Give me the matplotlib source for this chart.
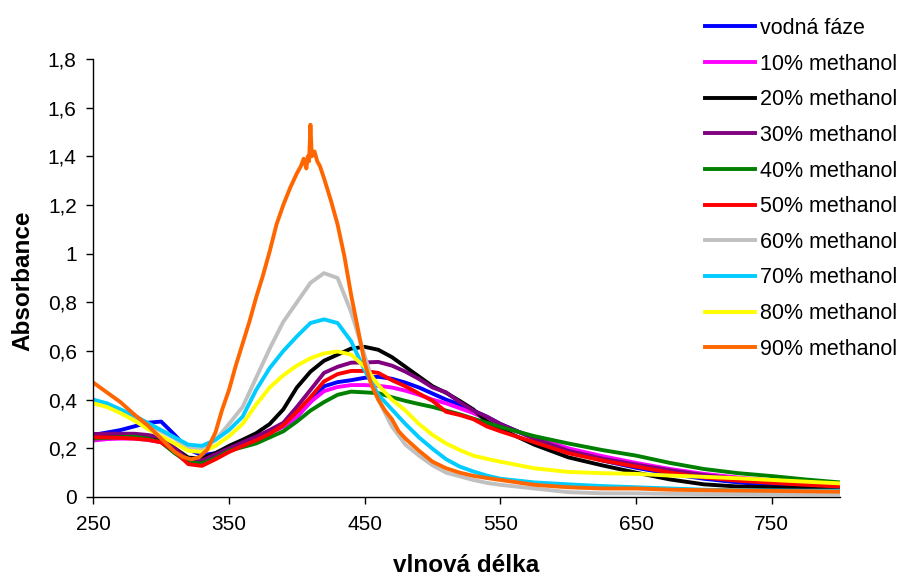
import matplotlib
matplotlib.use('Agg')
import matplotlib.pyplot as plt

plt.rcParams['font.family'] = ['Liberation Sans', 'DejaVu Sans']

# wavelength grid shared by most series (nm)
wl = [250, 260, 270, 280, 290, 300, 310, 320, 330, 340, 350, 360, 370, 380, 390,
      400, 410, 420, 430, 440, 450, 460, 470, 480, 490, 500, 510, 520, 530, 540,
      550, 575, 600, 625, 650, 675, 700, 725, 750, 775, 800]

voda = [0.255, 0.265, 0.275, 0.29, 0.305, 0.31, 0.255, 0.195, 0.172, 0.18, 0.205,
        0.225, 0.245, 0.265, 0.29, 0.33, 0.39, 0.455, 0.472, 0.48, 0.49, 0.494,
        0.486, 0.47, 0.45, 0.425, 0.40, 0.38, 0.355, 0.33, 0.30, 0.24, 0.19, 0.15,
        0.12, 0.095, 0.075, 0.06, 0.05, 0.045, 0.04]
m10 = [0.232, 0.238, 0.24, 0.24, 0.235, 0.225, 0.185, 0.14, 0.135, 0.16, 0.19,
       0.215, 0.235, 0.262, 0.29, 0.33, 0.39, 0.435, 0.452, 0.46, 0.46, 0.457,
       0.45, 0.437, 0.42, 0.40, 0.385, 0.365, 0.345, 0.32, 0.292, 0.245, 0.20,
       0.168, 0.14, 0.115, 0.095, 0.08, 0.068, 0.058, 0.05]
m20 = [0.258, 0.255, 0.252, 0.25, 0.245, 0.238, 0.20, 0.162, 0.158, 0.18, 0.21,
       0.235, 0.262, 0.30, 0.36, 0.45, 0.515, 0.56, 0.585, 0.61, 0.617, 0.605,
       0.575, 0.535, 0.495, 0.455, 0.428, 0.395, 0.36, 0.31, 0.28, 0.215, 0.163,
       0.13, 0.10, 0.072, 0.052, 0.043, 0.04, 0.038, 0.036]
m30 = [0.258, 0.26, 0.26, 0.26, 0.255, 0.245, 0.20, 0.152, 0.15, 0.175, 0.20,
       0.225, 0.248, 0.275, 0.305, 0.37, 0.44, 0.51, 0.535, 0.552, 0.553, 0.555,
       0.54, 0.515, 0.485, 0.45, 0.43, 0.39, 0.355, 0.33, 0.30, 0.24, 0.19, 0.158,
       0.133, 0.11, 0.09, 0.075, 0.065, 0.057, 0.05]
m40 = [0.24, 0.243, 0.246, 0.248, 0.24, 0.225, 0.18, 0.142, 0.138, 0.16, 0.19,
       0.205, 0.22, 0.245, 0.27, 0.31, 0.355, 0.39, 0.42, 0.433, 0.43, 0.427,
       0.41, 0.395, 0.382, 0.37, 0.355, 0.34, 0.322, 0.305, 0.288, 0.25, 0.22,
       0.193, 0.17, 0.14, 0.115, 0.098, 0.086, 0.072, 0.06]
m50 = [0.245, 0.245, 0.243, 0.24, 0.235, 0.225, 0.188, 0.135, 0.128, 0.155, 0.185,
       0.21, 0.233, 0.26, 0.295, 0.35, 0.41, 0.475, 0.505, 0.518, 0.518, 0.51,
       0.48, 0.455, 0.425, 0.395, 0.35, 0.337, 0.32, 0.29, 0.27, 0.225, 0.18,
       0.15, 0.125, 0.10, 0.08, 0.067, 0.058, 0.05, 0.043]
m60 = [0.395, 0.38, 0.355, 0.33, 0.30, 0.27, 0.24, 0.20, 0.195, 0.234, 0.30,
       0.37, 0.49, 0.61, 0.72, 0.80, 0.88, 0.92, 0.90, 0.76, 0.58, 0.40, 0.29,
       0.215, 0.17, 0.13, 0.10, 0.085, 0.07, 0.058, 0.05, 0.035, 0.02, 0.015,
       0.015, 0.013, 0.012, 0.012, 0.011, 0.01, 0.01]
m70 = [0.40, 0.385, 0.36, 0.335, 0.305, 0.275, 0.245, 0.215, 0.21, 0.235, 0.275,
       0.33, 0.44, 0.53, 0.60, 0.66, 0.715, 0.73, 0.715, 0.64, 0.52, 0.42, 0.36,
       0.30, 0.245, 0.198, 0.155, 0.125, 0.105, 0.088, 0.075, 0.06, 0.052, 0.045,
       0.04, 0.035, 0.03, 0.028, 0.027, 0.026, 0.026]
m80 = [0.385, 0.37, 0.345, 0.315, 0.28, 0.25, 0.22, 0.19, 0.185, 0.21, 0.25,
       0.30, 0.38, 0.45, 0.50, 0.54, 0.57, 0.59, 0.598, 0.585, 0.535, 0.46, 0.40,
       0.355, 0.30, 0.255, 0.22, 0.193, 0.17, 0.157, 0.145, 0.118, 0.103, 0.098,
       0.095, 0.088, 0.083, 0.077, 0.07, 0.063, 0.056]

# 90% methanol has its own, denser grid around the noisy peak
wl90 = [250, 260, 270, 280, 290, 300, 310, 316, 322, 328, 334, 340, 345, 350, 355,
        360, 365, 370, 375, 380, 385, 390, 395, 400, 403, 405, 407, 408, 409, 410,
        411, 413, 415, 417, 420, 425, 430, 435, 440, 445, 450, 455, 460, 465, 470,
        475, 480, 490, 500, 510, 520, 530, 540, 550, 575, 600, 625, 650, 675, 700,
        750, 800]
m90 = [0.47, 0.43, 0.39, 0.34, 0.295, 0.24, 0.185, 0.165, 0.155, 0.163, 0.195,
       0.265, 0.36, 0.44, 0.54, 0.63, 0.72, 0.82, 0.91, 1.01, 1.12, 1.20, 1.27,
       1.33, 1.36, 1.39, 1.35, 1.40, 1.38, 1.53, 1.40, 1.42, 1.38, 1.36, 1.31,
       1.22, 1.12, 0.99, 0.83, 0.69, 0.55, 0.46, 0.40, 0.355, 0.32, 0.27, 0.24,
       0.19, 0.145, 0.118, 0.10, 0.087, 0.078, 0.07, 0.05, 0.04, 0.035, 0.035,
       0.03, 0.028, 0.025, 0.022]

labels = ['vodná fáze', '10% methanol', '20% methanol', '30% methanol',
          '40% methanol', '50% methanol', '60% methanol', '70% methanol',
          '80% methanol', '90% methanol']
colors = ['#0000FF', '#FF00FF', '#000000', '#800080', '#008000',
          '#FF0000', '#C0C0C0', '#00CCFF', '#FFFF00', '#FF6600']

x_ticks = [250, 350, 450, 550, 650, 750]
y_ticks = [0, 0.2, 0.4, 0.6, 0.8, 1.0, 1.2, 1.4, 1.6, 1.8]
y_ticklabels = ['0', '0,2', '0,4', '0,6', '0,8', '1', '1,2', '1,4', '1,6', '1,8']

series = [(wl, voda), (wl, m10), (wl, m20), (wl, m30), (wl, m40),
          (wl, m50), (wl, m60), (wl, m70), (wl, m80), (wl90, m90)]

fig = plt.figure(figsize=(9.01, 5.78), dpi=100)
ax = fig.add_axes([93.3 / 901, 1 - 497 / 578, 746.4 / 901, 438 / 578])

for (xs, ys), lab, col in zip(series, labels, colors):
    ax.plot(xs, ys, color=col, lw=2.8, label=lab, solid_joinstyle='round')

ax.set_xlim(250, 800)
ax.set_ylim(0, 1.8)
ax.set_xticks(x_ticks)
ax.set_yticks(y_ticks)
ax.set_yticklabels(y_ticklabels)
ax.tick_params(axis='both', direction='out', length=5, width=1, labelsize=15,
               color='black')
ax.tick_params(axis='x', pad=8)
ax.tick_params(axis='y', pad=7)
for side in ['top', 'right']:
    ax.spines[side].set_visible(False)
for side in ['left', 'bottom']:
    ax.spines[side].set_linewidth(1)

fig.text(22.5 / 901, 1 - 281 / 578, 'Absorbance', rotation=90, ha='center',
         va='center', fontsize=17.5, fontweight='bold')
fig.text(466 / 901, 1 / 578, 'vlnová délka', ha='center', va='bottom',
         fontsize=17.5, fontweight='bold')

fig.legend(loc='upper left', bbox_to_anchor=(705 / 901, 1 - 18 / 578),
           frameon=False, fontsize=15.5, handlelength=2.3, handletextpad=0.25,
           labelspacing=0.68, borderpad=0, borderaxespad=0)

fig.savefig('out.png', dpi=100)
